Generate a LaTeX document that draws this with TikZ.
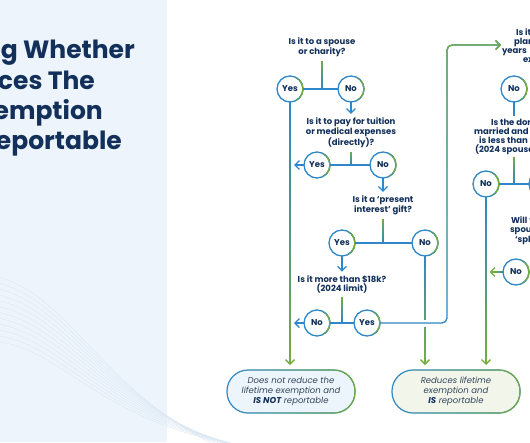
\documentclass[tikz,border=0pt]{standalone}
\usepackage{fontspec}
\setmainfont{Poppins}
\usetikzlibrary{positioning, arrows.meta, fadings, calc}

\definecolor{inknavy}{HTML}{12305A}
\definecolor{notetext}{HTML}{33445A}
\definecolor{flowblue}{HTML}{2F87C9}
\definecolor{flowgreen}{HTML}{73AC3F}
\definecolor{panelblue}{HTML}{EDF4FB}
\definecolor{wavecol}{HTML}{DCE8F3}
\definecolor{noteblue}{HTML}{EDF5FC}
\definecolor{notegreen}{HTML}{F2F6EA}

\tikzfading[name=fade right, left color=transparent!100, middle color=transparent!100, right color=transparent!0]

% straight line whose colour runs from #3 to #4
\newcommand{\fadeline}[4]{%
  \foreach \k [evaluate=\k as \ta using (\k-1)/16, evaluate=\k as \tb using \k/16,
               evaluate=\k as \pct using 100*(\k-0.5)/16] in {1,...,16}
    \draw[line width=1.3pt, draw=#4!\pct!#3] ($(#1)!\ta!(#2)$) -- ($(#1)!\tb!(#2)$);%
}

\begin{document}
\begin{tikzpicture}[
  x=1pt, y=-1pt,
  title/.style={anchor=base east, inner sep=0pt, text=inknavy, font=\fontsize{25}{28}\selectfont\bfseries},
  qtext/.style={align=center, inner sep=1pt, outer sep=3pt, text=inknavy, font=\fontsize{8.5}{9}\selectfont\bfseries},
  qcut/.style={qtext, align=left, anchor=west, inner sep=0pt},
  answer/.style={circle, draw=flowblue, line width=1.3pt, fill=white, minimum size=26pt, inner sep=0pt, outer sep=0pt,
    text=inknavy, font=\fontsize{8.5}{9}\selectfont\bfseries},
  outcome/.style={rectangle, rounded corners=21pt, draw=flowblue, line width=1.2pt, minimum width=128pt, minimum height=43pt,
    outer sep=0pt, align=center, text=notetext, font=\fontsize{8.5}{10}\selectfont\itshape, postaction={draw=flowgreen, path fading=fade right}},
  flow/.style={draw=flowblue, line width=1.3pt},
  arrow/.style={flow, -{Straight Barb[length=4.5pt, width=9pt]}},
  fromgreen/.style={postaction={draw=flowgreen, path fading=south}}
]
  \useasboundingbox (0,0) rectangle (530,442);
  \clip (0,0) rectangle (530,442);

  % Background
  \fill[white] (0,0) rectangle (530,442);
  \fill[panelblue] (0,0) rectangle (167,442);
  \foreach \i in {0,...,11}
    \draw[wavecol, line width=0.4pt] (-10,275+6*\i) .. controls (70,290+5*\i) and (100,395+4*\i) .. (230+6*\i,452);

  % Title
  \node[title] (title1) at (135,58) {Determining Whether};
  \node[title] (title2) at (95,89) {Reduces The};
  \node[title] (title3) at (103,119) {Exemption};
  \node[title] (title4) at (122,149) {Reportable};

  % Questions and answers
  \node[qtext] (q1) at (322,47.5) {Is it to a spouse\\or charity?};
  \node[answer] (yes1) at (290,89) {Yes};
  \node[answer] (no1) at (351,89) {No};
  \node[qtext] (q2) at (351,133) {Is it to pay for tuition\\or medical expenses\\(directly)?};
  \node[answer] (yes2) at (317,165) {Yes};
  \node[answer] (no2) at (383,165) {No};
  \node[qtext] (q3) at (383,205.5) {Is it a ‘present\\interest’ gift?};
  \node[answer] (yes3) at (342,243) {Yes};
  \node[answer] (no3) at (425,243) {No};
  \node[qtext] (q4) at (342,284.5) {Is it more than \$18k?\\(2024 limit)};
  \node[answer] (no4) at (317,323) {No};
  \node[answer] (yes4) at (367,323) {Yes};

  % Right column
  \node[qcut] (q5) at (499,46) {\hspace*{14pt}Is it\\\hspace*{12pt}plan\\years\\\hspace*{21pt}ex};
  \node[answer] (no5) at (514,89) {No};
  \node[qcut] (q6) at (471,136.5) {\hspace*{17pt}Is the dor\\married and t\\\hspace*{5pt}is less than \$\\\hspace*{1pt}(2024 spousa};
  \node[answer] (no6) at (486,184) {No};
  \node[answer] (yes6) at (542,184) {};
  \node[qcut] (q7) at (507,230.5) {\hspace*{1pt}Will t\\spous\\\hspace*{5pt}‘spli};
  \node[answer] (no7) at (516,272) {No};

  % green right edge of the answer circles
  \foreach \n in {yes1,no1,yes2,no2,yes3,no3,no4,yes4,no5,no6,yes6,no7} {
    \draw[flowgreen!55!flowblue, line width=1.3pt] (\n.-65) arc[start angle=-65, end angle=65, radius=13pt];
    \draw[flowgreen, line width=1.3pt] (\n.-40) arc[start angle=-40, end angle=40, radius=13pt];
  }

  % Outcomes
  \node[outcome, fill=noteblue] (res1) at (291,391.5) {Does not reduce the\\lifetime exemption and\\{\bfseries\color{inknavy}IS NOT} reportable};
  \node[outcome, fill=notegreen] (res2) at (456,391.5) {Reduces lifetime\\exemption and\\{\bfseries\color{inknavy}IS} reportable};

  % Edges
  \fadeline{q1.south}{q1.south |- yes1}{flowgreen}{flowblue}
  \draw[flow] (yes1) -- (no1);
  \draw[arrow] (no1) -- (q2.north -| no1);
  \fadeline{q2.south}{q2.south |- yes2}{flowgreen}{flowblue}
  \draw[flow] (yes2) -- (no2);
  \draw[arrow, shorten >=4pt] (yes2) -- (yes2 -| yes1);
  \draw[arrow] (no2) -- (q3.north -| no2);
  \fadeline{q3.south}{q3.south |- yes3}{flowgreen}{flowblue}
  \draw[flow] (yes3) -- (no3);
  \draw[arrow] (yes3) -- (q4.north -| yes3);
  \fadeline{q4.south}{q4.south |- no4}{flowgreen}{flowblue}
  \draw[flow] (no4) -- (yes4);
  \draw[arrow, shorten >=4pt] (no4) -- (no4 -| yes1);

  % Drops to the outcomes
  \coordinate (drop1) at ($(yes1 |- res1.north)+(0,-14)$);
  \coordinate (drop2) at ($(no3 |- res2.north)+(0,-14)$);
  \coordinate (drop3) at ($(no6 |- res2.north)+(0,-14)$);
  \draw[arrow, draw=flowgreen, shorten >=5pt] (yes1) -- (yes1 |- res1.north);
  \fadeline{yes1.south}{drop1}{flowblue}{flowgreen}
  \draw[arrow, draw=flowgreen, shorten >=5pt] (no3) -- (no3 |- res2.north);
  \fadeline{no3.south}{drop2}{flowblue}{flowgreen}
  \fill[white] ($(no3 |- yes4)+(-3,-3.5)$) rectangle ++(6,7);
  \coordinate (jog) at (447,45);
  \coordinate (q5in) at (501,45);
  \draw[arrow, fromgreen, rounded corners=5pt] (yes4) -| (jog) -- (q5in);

  % Right column edges
  \draw[flow] (no5) -- (no5 |- q6.north);
  \fadeline{no5 |- q6.south}{no5 |- no6}{flowgreen}{flowblue}
  \draw[flow] (no6) -- (yes6);
  \draw[arrow, draw=flowgreen, shorten >=5pt] (no6) -- (no6 |- res2.north);
  \fadeline{no6.south}{drop3}{flowblue}{flowgreen}
  \coordinate (no7tip) at ($(no7 -| no6)+(9,0)$);
  \draw[arrow, draw=flowgreen, shorten >=3.5pt] (no7) -- (no7 -| no6);
  \fadeline{no7.west}{no7tip}{flowblue}{flowgreen}

\end{tikzpicture}
\end{document}
